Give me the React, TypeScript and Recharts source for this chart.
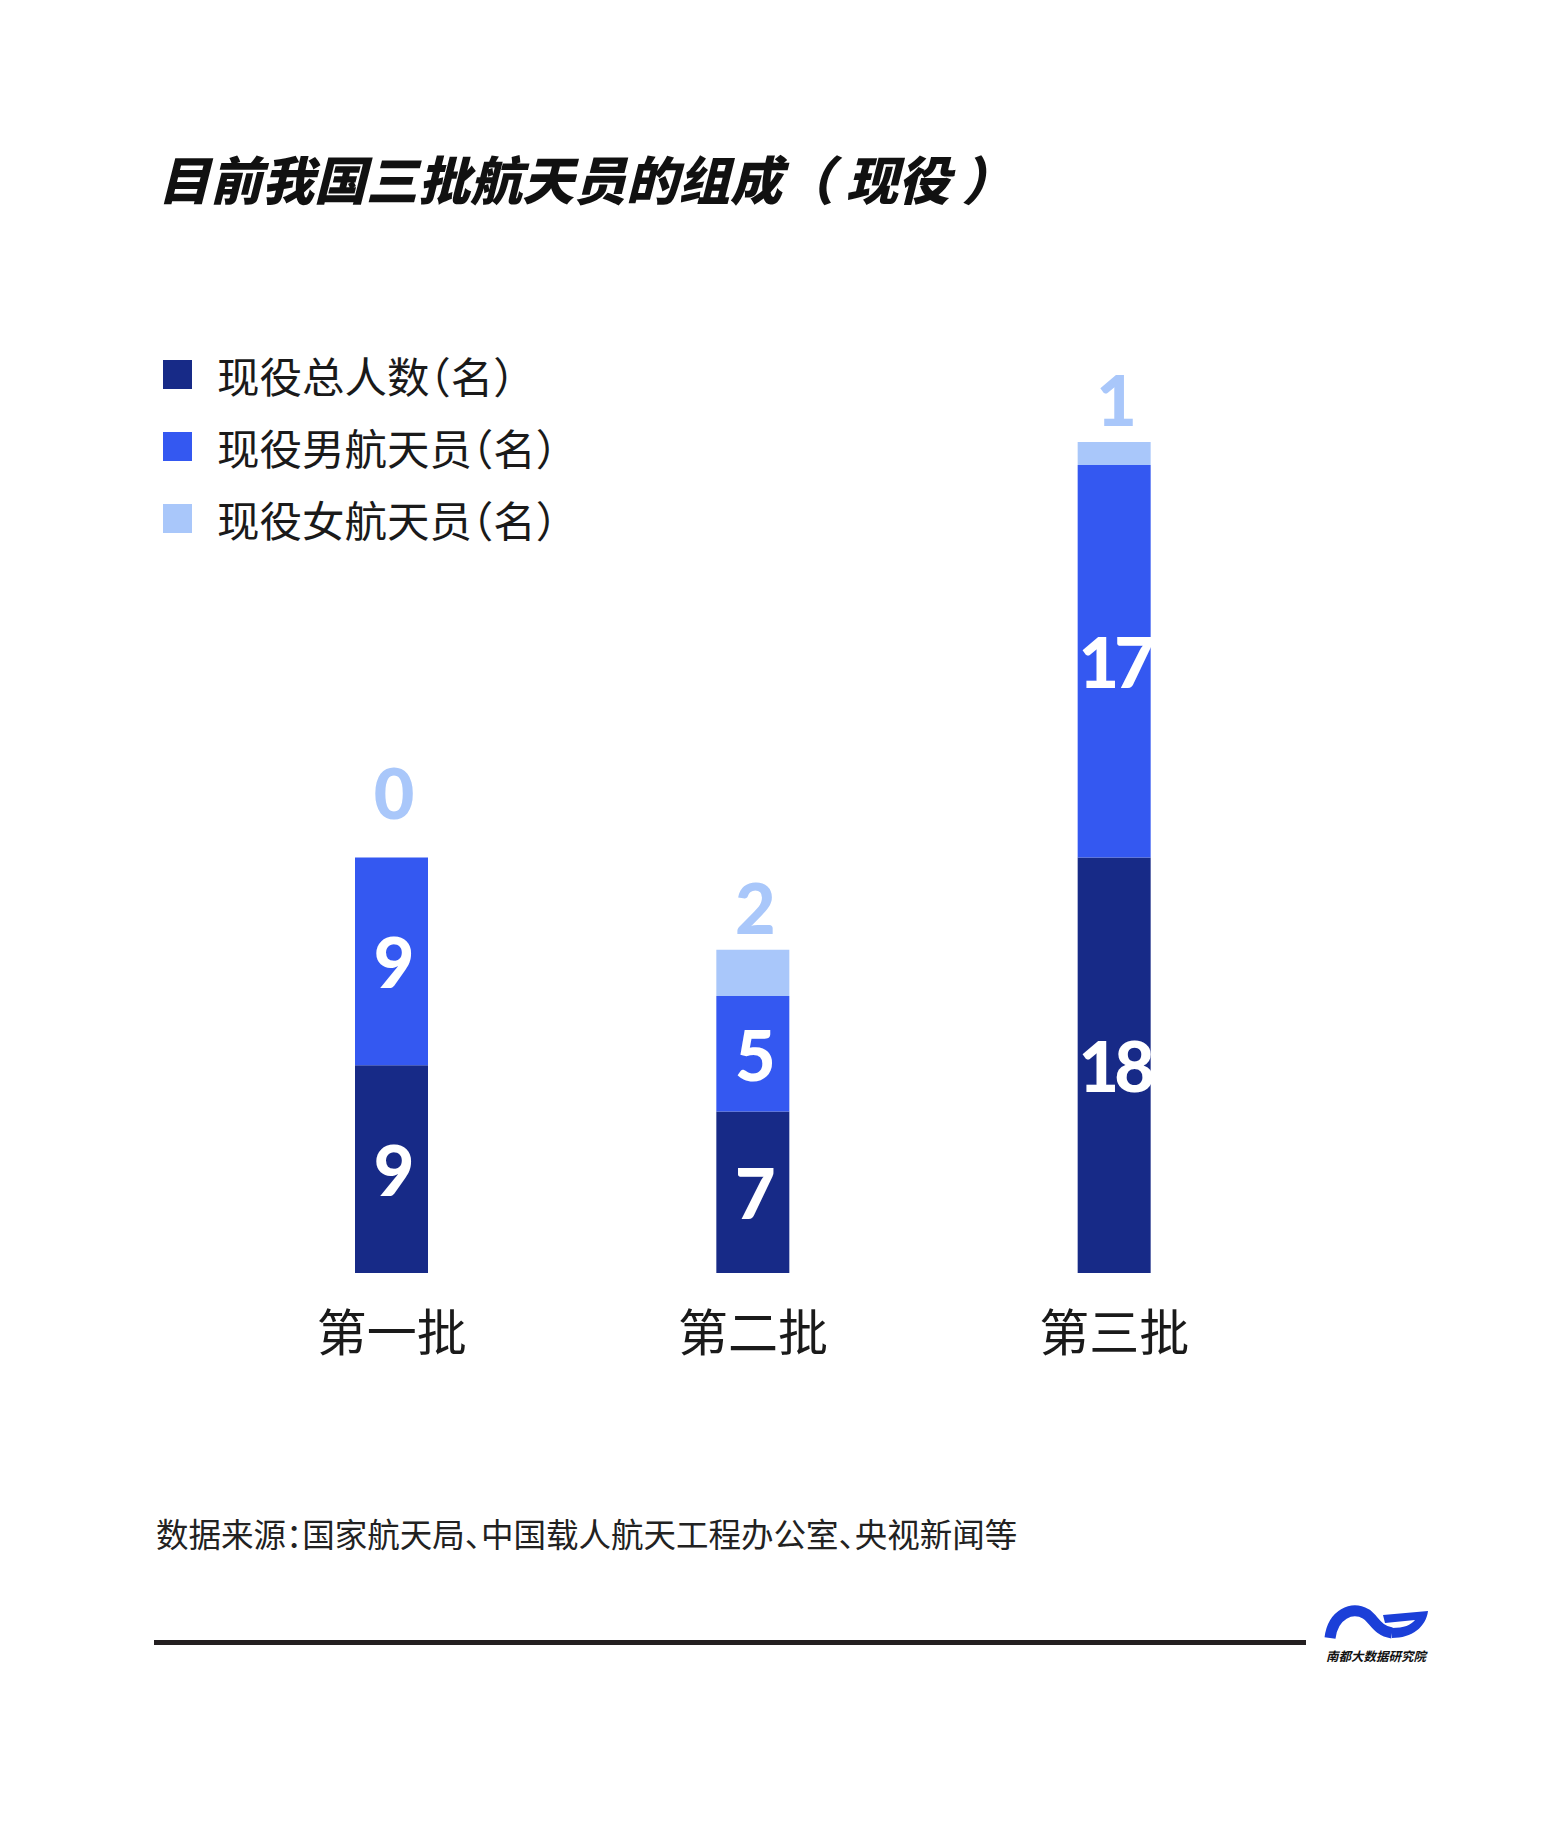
import React from 'react';
import { BarChart, Bar, XAxis, YAxis, LabelList } from 'recharts';

// 三批航天员（现役）
const categories = ['第一批', '第二批', '第三批'];
const totalActive = [9, 7, 18];
const maleActive = [9, 5, 17];
const femaleActive = [0, 2, 1];
const seriesNames = ['现役总人数（名）', '现役男航天员（名）', '现役女航天员（名）'];
const colors = ['#172a87', '#3458f1', '#a9c7fa'];

const data = categories.map((name, i) => ({
  name,
  total: totalActive[i],
  male: maleActive[i],
  female: femaleActive[i],
}));

const CJK = '"Noto Sans CJK SC", "Noto Sans", sans-serif';
const NUM = 'Lato, "Open Sans", "Noto Sans", sans-serif';

const numStyle = {
  fontFamily: NUM,
  fontWeight: 900,
  fontSize: 70,
  letterSpacing: -5,
};

const CategoryTick = ({ x, y, payload }: any) => (
  <text
    x={x}
    y={y + 56}
    textAnchor="middle"
    dominantBaseline="central"
    fill="#1a1a1a"
    style={{ fontFamily: CJK, fontSize: 50 }}
  >
    {payload.value}
  </text>
);

const insideLabel = (props: any) => {
  const { x, y, width, height, value } = props;
  return (
    <text
      x={x + width / 2}
      y={y + height / 2}
      textAnchor="middle"
      dominantBaseline="central"
      fill="#ffffff"
      style={numStyle}
    >
      {value}
    </text>
  );
};

// female count sits above the stack; drawn off the male segment so a zero value still shows
const topLabel = (props: any) => {
  const { x, y, width, height, value, index } = props;
  const unit = height / maleActive[index];
  const top = y - value * unit;
  const off = value === 0 ? 66 : 43;
  return (
    <text
      x={x + width / 2}
      y={top - off}
      textAnchor="middle"
      dominantBaseline="central"
      fill={colors[2]}
      style={numStyle}
    >
      {value}
    </text>
  );
};

export default function App() {
  return (
    <div style={{ position: 'relative', width: 1547, height: 1822, fontFamily: CJK, background: '#fff' }}>
      {/* title */}
      <div
        style={{
          position: 'absolute',
          left: 150,
          top: 144,
          fontSize: 52,
          lineHeight: '52px',
          fontWeight: 900,
          fontStyle: 'italic',
          color: '#111',
          whiteSpace: 'pre',
        }}
      >
        目前我国三批航天员的组成（ 现役 ）
      </div>

      {/* legend */}
      <div style={{ position: 'absolute', left: 155, top: 352 }}>
        {seriesNames.map((n, i) => (
          <div key={n} style={{ display: 'flex', alignItems: 'center', height: 29, marginBottom: 43 }}>
            <div style={{ width: 29, height: 29, background: colors[i], flex: 'none' }} />
            <span
              style={{
                marginLeft: 25,
                fontSize: 42.5,
                color: '#1a1a1a',
                whiteSpace: 'nowrap',
                fontFeatureSettings: '"halt"',
              }}
            >
              {n}
            </span>
          </div>
        ))}
      </div>

      <div style={{ position: 'absolute', left: 0, top: 0 }}>
        <BarChart
          width={1547}
          height={1822}
          data={data}
          margin={{ top: 434, right: 260, bottom: 497, left: 203 }}
        >
          <XAxis
            dataKey="name"
            axisLine={false}
            tickLine={false}
            tickSize={0}
            tickMargin={0}
            height={60}
            interval={0}
            tick={<CategoryTick />}
          />
          <YAxis hide domain={[0, 36]} />
          <Bar dataKey="total" name={seriesNames[0]} stackId="a" fill={colors[0]} barSize={73} isAnimationActive={false}>
            <LabelList dataKey="total" content={insideLabel} />
          </Bar>
          <Bar dataKey="male" name={seriesNames[1]} stackId="a" fill={colors[1]} barSize={73} isAnimationActive={false}>
            <LabelList dataKey="male" content={insideLabel} />
            <LabelList dataKey="female" content={topLabel} />
          </Bar>
          <Bar dataKey="female" name={seriesNames[2]} stackId="a" fill={colors[2]} barSize={73} isAnimationActive={false} />
        </BarChart>
      </div>

      {/* source */}
      <div
        style={{
          position: 'absolute',
          left: 148,
          top: 1505,
          fontSize: 32.5,
          lineHeight: '40px',
          color: '#222',
          whiteSpace: 'nowrap',
          fontFeatureSettings: '"halt"',
        }}
      >
        数据来源：国家航天局、中国载人航天工程办公室、央视新闻等
      </div>

      {/* footer rule */}
      <div style={{ position: 'absolute', left: 146, top: 1632, width: 1152, height: 5, background: '#231f20' }} />

      {/* logo */}
      <svg style={{ position: 'absolute', left: 1312, top: 1596 }} width={120} height={68} viewBox="1320 1604 120 68">
        <path
          d="M1330 1638 C1333 1614, 1352 1606, 1366 1614 C1374 1619, 1377 1631, 1392 1633"
          fill="none"
          stroke="#1b3fd8"
          strokeWidth={11}
          strokeLinecap="butt"
        />
        <path
          d="M1383 1615 L1428 1611 C1426 1627, 1412 1638, 1392 1638 L1392 1628 C1404 1628, 1411 1625, 1415 1620 L1385 1623 Z"
          fill="#1b3fd8"
        />
        <text
          x={1376}
          y={1661}
          textAnchor="middle"
          style={{ fontFamily: CJK, fontSize: 12.5, fontWeight: 700, fontStyle: 'italic' }}
          fill="#111"
        >
          南都大数据研究院
        </text>
      </svg>
    </div>
  );
}
